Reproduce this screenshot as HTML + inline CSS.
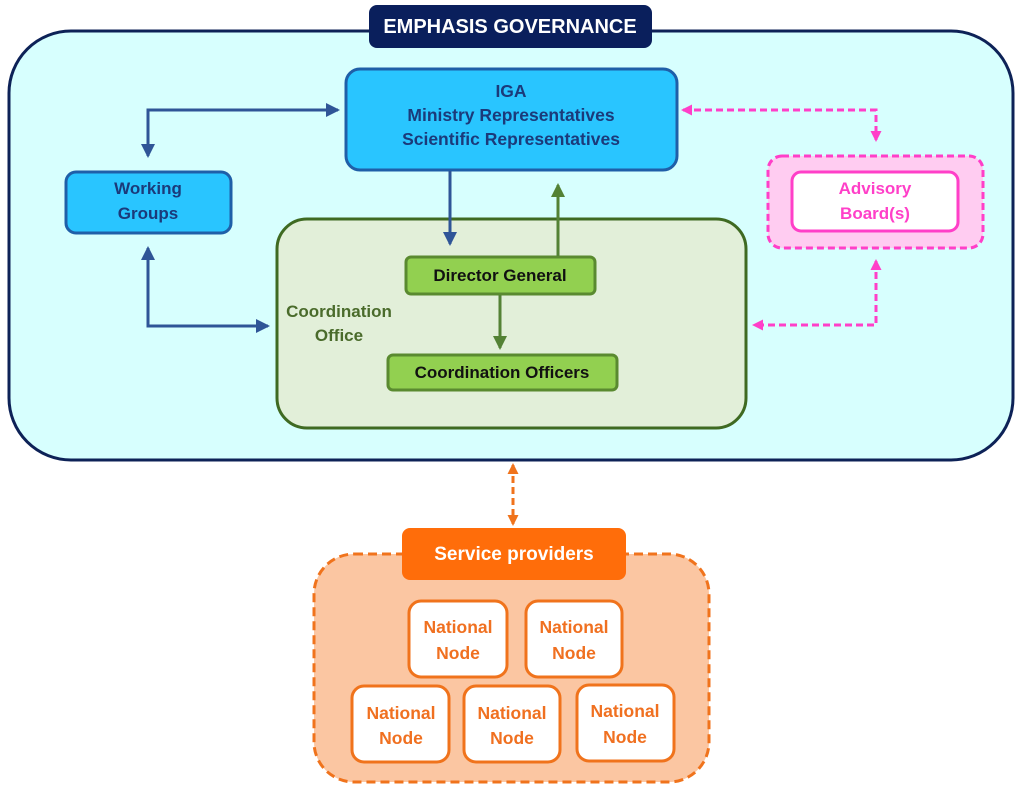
<!DOCTYPE html>
<html><head><meta charset="utf-8"><style>
html,body{margin:0;padding:0;background:#fff;}
text{font-family:"Liberation Sans",sans-serif;font-weight:bold;}
</style></head><body>
<svg width="1030" height="793" viewBox="0 0 1030 793" xmlns="http://www.w3.org/2000/svg">
<defs>
<marker id="ab" markerWidth="14" markerHeight="14" refX="12" refY="7" orient="auto-start-reverse" markerUnits="userSpaceOnUse"><path d="M0,0 L14,7 L0,14 z" fill="#2f5597"/></marker>
<marker id="ag" markerWidth="14" markerHeight="14" refX="12" refY="7" orient="auto-start-reverse" markerUnits="userSpaceOnUse"><path d="M0,0 L14,7 L0,14 z" fill="#548235"/></marker>
<marker id="ap" markerWidth="11" markerHeight="11" refX="9" refY="5.5" orient="auto-start-reverse" markerUnits="userSpaceOnUse"><path d="M0,0 L11,5.5 L0,11 z" fill="#ff3fc8"/></marker>
<marker id="ao" markerWidth="11" markerHeight="11" refX="9" refY="5.5" orient="auto-start-reverse" markerUnits="userSpaceOnUse"><path d="M0,0 L11,5.5 L0,11 z" fill="#f0731c"/></marker>
</defs>
<rect x="9" y="31" width="1004" height="429" rx="62" fill="#d7fffe" stroke="#0d2257" stroke-width="3"/>
<rect x="369" y="5" width="283" height="43" rx="8" fill="#0a1f5c"/>
<text x="510" y="33" fill="#fff" font-size="20" text-anchor="middle">EMPHASIS GOVERNANCE</text>

<rect x="346" y="69" width="331" height="101" rx="14" fill="#29c5ff" stroke="#1f5fa8" stroke-width="3"/>
<text fill="#1b3a7a" font-size="17.5" text-anchor="middle"><tspan x="511" y="97">IGA</tspan><tspan x="511" y="121">Ministry Representatives</tspan><tspan x="511" y="145">Scientific Representatives</tspan></text>

<rect x="66" y="172" width="165" height="61" rx="10" fill="#29c5ff" stroke="#1f5fa8" stroke-width="3"/>
<text fill="#1b3a7a" font-size="17" text-anchor="middle"><tspan x="148" y="194">Working</tspan><tspan x="148" y="219">Groups</tspan></text>

<rect x="277" y="219" width="469" height="209" rx="30" fill="#e2efd9" stroke="#3f6a22" stroke-width="3"/>
<text fill="#4a6b2b" font-size="17" text-anchor="middle"><tspan x="339" y="317">Coordination</tspan><tspan x="339" y="341">Office</tspan></text>
<rect x="406" y="257" width="189" height="37" rx="5" fill="#92d050" stroke="#5a8a30" stroke-width="3"/>
<text x="500" y="281" fill="#111" font-size="17" text-anchor="middle">Director General</text>
<rect x="388" y="355" width="229" height="35" rx="5" fill="#92d050" stroke="#5a8a30" stroke-width="3"/>
<text x="502" y="378" fill="#111" font-size="17" text-anchor="middle">Coordination Officers</text>

<path d="M148,156 L148,110 L338,110" fill="none" stroke="#2f5597" stroke-width="3" marker-start="url(#ab)" marker-end="url(#ab)"/>
<path d="M148,248 L148,326 L268,326" fill="none" stroke="#2f5597" stroke-width="3" marker-start="url(#ab)" marker-end="url(#ab)"/>
<path d="M450,171 L450,244" fill="none" stroke="#2f5597" stroke-width="3" marker-end="url(#ab)"/>
<path d="M558,256 L558,185" fill="none" stroke="#548235" stroke-width="3" marker-end="url(#ag)"/>
<path d="M500,295 L500,348" fill="none" stroke="#548235" stroke-width="3" marker-end="url(#ag)"/>

<rect x="768" y="156" width="215" height="92" rx="14" fill="#ffccf1" stroke="#ff3fc8" stroke-width="3" stroke-dasharray="7,4"/>
<rect x="792" y="172" width="166" height="59" rx="9" fill="#fff" stroke="#ff3fc8" stroke-width="3"/>
<text fill="#ff3fc8" font-size="17" text-anchor="middle"><tspan x="875" y="194">Advisory</tspan><tspan x="875" y="219">Board(s)</tspan></text>
<path d="M683,110 L876,110 L876,140" fill="none" stroke="#ff3fc8" stroke-width="3" stroke-dasharray="7,4" marker-start="url(#ap)" marker-end="url(#ap)"/>
<path d="M876,261 L876,325 L754,325" fill="none" stroke="#ff3fc8" stroke-width="3" stroke-dasharray="7,4" marker-start="url(#ap)" marker-end="url(#ap)"/>

<path d="M513,465 L513,524" fill="none" stroke="#f0731c" stroke-width="3" stroke-dasharray="7,4" marker-start="url(#ao)" marker-end="url(#ao)"/>
<rect x="314" y="554" width="395" height="228" rx="40" fill="#fbc6a2" stroke="#f0731c" stroke-width="3" stroke-dasharray="9,5"/>
<rect x="402" y="528" width="224" height="52" rx="8" fill="#ff6d0a"/>
<text x="514" y="560" fill="#fff" font-size="19" text-anchor="middle">Service providers</text>
<g fill="#fff" stroke="#f0731c" stroke-width="3">
<rect x="409" y="601" width="98" height="76" rx="12"/>
<rect x="526" y="601" width="96" height="76" rx="12"/>
<rect x="352" y="686" width="97" height="76" rx="12"/>
<rect x="464" y="686" width="96" height="76" rx="12"/>
<rect x="577" y="685" width="97" height="76" rx="12"/>
</g>
<g fill="#f07020" font-size="17.5" text-anchor="middle">
<text><tspan x="458" y="633">National</tspan><tspan x="458" y="659">Node</tspan></text>
<text><tspan x="574" y="633">National</tspan><tspan x="574" y="659">Node</tspan></text>
<text><tspan x="401" y="719">National</tspan><tspan x="401" y="744">Node</tspan></text>
<text><tspan x="512" y="719">National</tspan><tspan x="512" y="744">Node</tspan></text>
<text><tspan x="625" y="717">National</tspan><tspan x="625" y="743">Node</tspan></text>
</g>
</svg>
</body></html>
